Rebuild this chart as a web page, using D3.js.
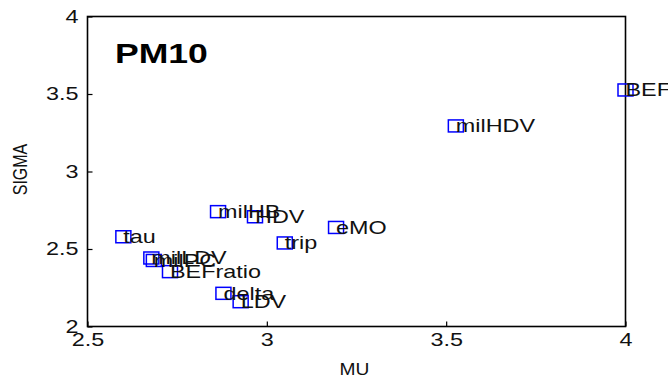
<!DOCTYPE html>
<html>
<head>
<meta charset="utf-8">
<script src="https://cdn.jsdelivr.net/npm/d3@7"></script>
<style>
  body { margin: 0; background: #fff; }
  svg { display: block; font-family: "Liberation Sans", Arial, sans-serif; }
</style>
</head>
<body>
<svg id="chart"></svg>
<script>
// parameter labels and their (MU, SIGMA) position
const names = ['BEF', 'milHDV', 'eMO', 'trip', 'milHB', 'HDV', 'tau', 'milLDV', 'milPC', 'BEFratio', 'delta', 'LDV'];
const mu    = [4.0, 3.527, 3.193, 3.050, 2.864, 2.967, 2.600, 2.678, 2.685, 2.730, 2.879, 2.927];
const sigma = [3.526, 3.294, 2.639, 2.539, 2.741, 2.708, 2.579, 2.442, 2.426, 2.354, 2.214, 2.160];

const xTicks = [2.5, 3, 3.5, 4];
const yTicks = [2, 2.5, 3, 3.5, 4];
const title = 'PM10';

const width = 668, height = 379;
const margin = { top: 16.5, right: 42.5, bottom: 52.5, left: 87.5 };
const stretch = 1.3;

const svg = d3.select('#chart')
    .attr('width', width)
    .attr('height', height);

const inner_width = width - margin.left - margin.right;
const inner_height = height - margin.top - margin.bottom;

const chart = svg.append('g')
    .attr('transform', `translate(${margin.left}, ${margin.top})`);

const xscale = d3.scaleLinear().domain([2.5, 4]).range([0, inner_width]);
const yscale = d3.scaleLinear().domain([2, 4]).range([inner_height, 0]);

const xaxis = d3.axisBottom(xscale)
    .tickValues(xTicks)
    .tickFormat(d3.format('~g'))
    .tickSizeInner(-5)
    .tickSizeOuter(0)
    .tickPadding(7);

const yaxis = d3.axisLeft(yscale)
    .tickValues(yTicks)
    .tickFormat(d3.format('~g'))
    .tickSizeInner(-5)
    .tickSizeOuter(0)
    .tickPadding(9);

const xg = chart.append('g')
    .attr('transform', `translate(0, ${inner_height})`)
    .call(xaxis);
const yg = chart.append('g').call(yaxis);

[xg, yg].forEach(g => {
    g.select('.domain').remove();
    g.selectAll('.tick line').attr('stroke', '#000').attr('stroke-width', 1.2);
    g.selectAll('.tick text')
        .attr('fill', '#111')
        .style('font-size', '18px')
        .style('font-family', '"Liberation Sans", Arial, sans-serif');
});
xg.selectAll('.tick text').attr('transform', `scale(${stretch},1)`);
yg.selectAll('.tick text')
    .attr('x', -9 / stretch)
    .attr('transform', `scale(${stretch},1)`);

// box around the plot area
chart.append('rect')
    .attr('x', 0)
    .attr('y', 0)
    .attr('width', inner_width)
    .attr('height', inner_height)
    .attr('fill', 'none')
    .attr('stroke', '#000')
    .attr('stroke-width', 1.6);

const points = names.map((n, i) => ({ name: n, x: mu[i], y: sigma[i] }));

chart.selectAll('rect.mark')
    .data(points)
    .enter()
    .append('rect')
    .attr('class', 'mark')
    .attr('x', d => xscale(d.x) - 7.5)
    .attr('y', d => yscale(d.y) - 6)
    .attr('width', 15)
    .attr('height', 12)
    .attr('fill', 'none')
    .attr('stroke', '#0000ff')
    .attr('stroke-width', 1.5);

chart.selectAll('g.label')
    .data(points)
    .enter()
    .append('g')
    .attr('class', 'label')
    .attr('transform', d => `translate(${xscale(d.x)}, ${yscale(d.y)})`)
    .append('text')
    .attr('transform', `scale(${stretch},1)`)
    .attr('dy', '0.36em')
    .attr('fill', '#111')
    .style('font-size', '18px')
    .text(d => d.name);

chart.append('text')
    .attr('transform', `translate(${115 - margin.left}, ${63 - margin.top}) scale(1.27,1)`)
    .attr('fill', '#000')
    .style('font-size', '28px')
    .style('font-weight', 'bold')
    .text(title);

svg.append('text')
    .attr('transform', `translate(${margin.left + inner_width / 2 - 2}, 375) scale(1.2,1)`)
    .attr('text-anchor', 'middle')
    .attr('fill', '#111')
    .style('font-size', '16px')
    .text('MU');

svg.append('text')
    .attr('transform', `translate(27, ${margin.top + inner_height / 2 - 2}) scale(1.3,1) rotate(-90)`)
    .attr('text-anchor', 'middle')
    .attr('fill', '#111')
    .style('font-size', '16px')
    .text('SIGMA');
</script>
</body>
</html>
